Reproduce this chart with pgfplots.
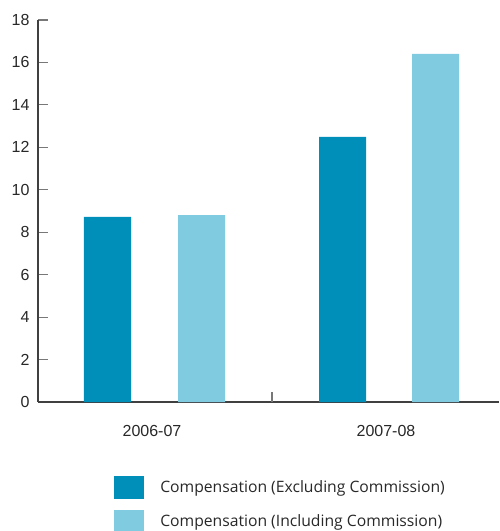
\documentclass[border=0pt]{standalone}
\usepackage{pgfplots}
\pgfplotsset{compat=1.18}
\usepackage{fontspec}
\setmainfont{Liberation Sans}
\newfontfamily\legendfont{Open Sans}

\definecolor{excl}{RGB}{0,143,185}
\definecolor{incl}{RGB}{128,203,224}
\definecolor{axisgray}{RGB}{64,64,64}
\definecolor{tickgray}{RGB}{120,120,120}
\definecolor{txt}{RGB}{40,40,40}

\begin{document}
\begin{tikzpicture}
\begin{axis}[
  at={(0pt,0pt)}, anchor=south west,
  scale only axis,
  width=461pt, height=382pt,
  xmin=38, xmax=499,
  ymin=0, ymax=18,
  axis x line*=bottom, axis y line*=left,
  axis line style={axisgray, line width=1.2pt},
  ytick={0,2,...,18},
  tick align=inside,
  major tick length=10pt,
  tick style={tickgray, line width=1.2pt},
  % year labels, without tick marks
  xtick={152,386},
  xticklabels={2006-07,2007-08},
  xtick style={draw=none},
  % separator between the two years, drawn as an upward tick
  extra x ticks={272},
  extra x tick labels={},
  extra x tick style={tick align=inside, xtick style={draw=tickgray, line width=1.2pt}},
  tick label style={font=\fontsize{16}{18}\selectfont, text=txt},
  /pgf/number format/assume math mode=true,
  yticklabel style={xshift=-5pt},
  xticklabel style={yshift=-10pt},
  ybar, bar width=47, bar shift=0pt,
  legend style={
    at={(axis description cs:0.165,-0.193)}, anchor=north west,
    draw=none, fill=none, inner sep=0pt,
    row sep=11pt,
    font=\legendfont\fontsize{15.7}{18}\selectfont,
    text=txt,
    nodes={inner sep=0pt, anchor=west},
    /tikz/every odd column/.append style={column sep=16pt},
  },
  legend image code/.code={\fill[#1, draw=none] (0pt,-11.5pt) rectangle (30pt,11.5pt);},
  legend cell align=left,
]
\addplot[fill=excl, draw=none] coordinates {(107.5,8.72) (342.5,12.49)};
\addplot[fill=incl, draw=none] coordinates {(201.5,8.81) (435.5,16.40)};
\legend{Compensation (Excluding Commission), Compensation (Including Commission)}
\end{axis}
\pgfresetboundingbox
\path (-38pt,-129pt) rectangle (461pt,402pt);
\end{tikzpicture}
\end{document}
